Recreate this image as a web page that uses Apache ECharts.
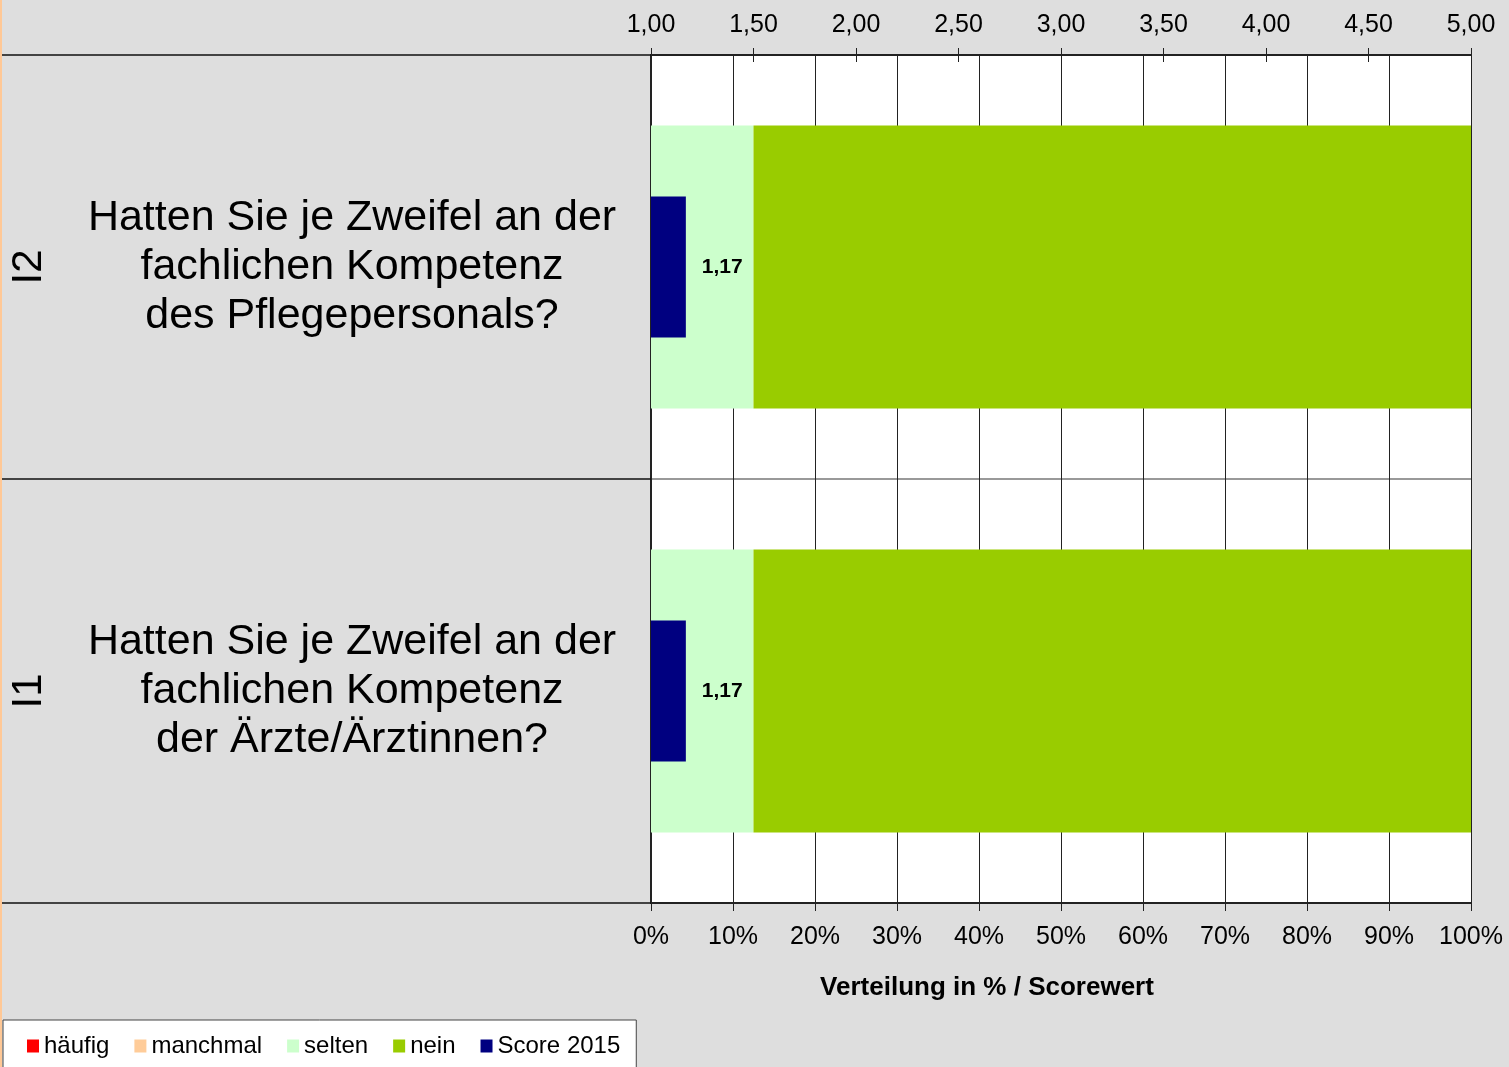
<!DOCTYPE html>
<html>
<head>
<meta charset="utf-8">
<script src="https://cdn.jsdelivr.net/npm/echarts@6/dist/echarts.min.js"></script>
<style>
html,body{margin:0;padding:0;background:#dedede;}
#c{width:1507px;height:1067px;border-left:2px solid #ffc896;background:#dedede;}
</style>
</head>
<body>
<div id="c"></div>
<script>
// ---- data ----
var codes = ['I1', 'I2'];
var questions = [
  'Hatten Sie je Zweifel an der\nfachlichen Kompetenz\nder Ärzte/Ärztinnen?',
  'Hatten Sie je Zweifel an der\nfachlichen Kompetenz\ndes Pflegepersonals?'
];
var haeufig = [0, 0];
var manchmal = [0, 0];
var selten = [12.5, 12.5];
var nein = [87.5, 87.5];
var score2015 = [1.17, 1.17];
var seriesNames = ['häufig', 'manchmal', 'selten', 'nein', 'Score 2015'];
var colors = ['#ff0000', '#ffcc99', '#ccffcc', '#99cc00', '#000080'];
var axisTitle = 'Verteilung in % / Scorewert';

var FONT = '"Liberation Sans", Arial, sans-serif';
var chart = echarts.init(document.getElementById('c'));

function stackBar(name, data, color) {
  return {
    name: name, type: 'bar', stack: 'dist', data: data,
    xAxisIndex: 0, yAxisIndex: 0, barWidth: '66.7%',
    itemStyle: { color: color }, z: 2
  };
}

var option = {
  animation: false,
  backgroundColor: '#dedede',
  textStyle: { fontFamily: FONT },
  grid: { left: 649, right: 38, top: 55, bottom: 164, containLabel: false, outerBoundsMode: 'none', backgroundColor: '#ffffff', show: true, borderWidth: 0 },
  legend: {
    left: 1, top: 1020,
    data: seriesNames.map(function (n) { return { name: n, icon: 'rect' }; }),
    itemWidth: 12, itemHeight: 13, itemGap: 25,
    backgroundColor: '#ffffff', borderColor: '#444', borderWidth: 1,
    padding: [14, 16, 40, 24],
    textStyle: { fontSize: 24, color: '#000', fontFamily: FONT }
  },
  xAxis: [
    {
      type: 'value', position: 'bottom', min: 0, max: 100, interval: 10,
      axisLine: { show: true, lineStyle: { color: '#222', width: 2 } },
      axisTick: { show: true, length: 8, lineStyle: { color: '#222', width: 1 } },
      axisLabel: { formatter: function (v) { return v + '%'; }, fontSize: 25, color: '#000', margin: 22, fontFamily: FONT },
      splitLine: { show: true, lineStyle: { color: '#222', width: 1 } },
      name: axisTitle, nameLocation: 'middle', nameGap: 72,
      nameTextStyle: { fontSize: 26, fontWeight: 'bold', color: '#000', fontFamily: FONT, padding: [0, 148, 0, 0] }
    },
    {
      type: 'value', position: 'top', min: 1, max: 5, interval: 0.5,
      axisLine: { show: true, lineStyle: { color: '#222', width: 2 } },
      axisTick: { show: true, length: 7, lineStyle: { color: '#222', width: 1 } },
      axisLabel: { formatter: function (v) { return v.toFixed(2).replace('.', ','); }, fontSize: 25, color: '#000', margin: 17, fontFamily: FONT },
      splitLine: { show: false }
    },
    {
      type: 'value', position: 'top', min: 1, max: 5, interval: 0.5,
      axisLine: { show: false },
      axisTick: { show: true, inside: true, length: 7, lineStyle: { color: '#222', width: 1 } },
      axisLabel: { show: false },
      splitLine: { show: false }
    }
  ],
  yAxis: [
    {
      type: 'category', data: questions, position: 'left',
      axisLine: { show: true, lineStyle: { color: '#222', width: 2 } },
      axisTick: { show: true, length: 649, lineStyle: { color: '#111', width: 1.5 } },
      axisLabel: { interval: 0, align: 'center', margin: 299, fontSize: 43, lineHeight: 49, padding: [4, 0, 0, 0], color: '#000', fontFamily: FONT },
      splitLine: { show: true, lineStyle: { color: '#999', width: 2 } }
    },
    {
      type: 'category', data: codes, position: 'left',
      axisLine: { show: false }, axisTick: { show: false },
      axisLabel: { interval: 0, rotate: 90, align: 'center', verticalAlign: 'middle', margin: 622, fontSize: 42, color: '#000', fontFamily: FONT },
      splitLine: { show: false }
    }
  ],
  series: [
    stackBar(seriesNames[0], haeufig, colors[0]),
    stackBar(seriesNames[1], manchmal, colors[1]),
    stackBar(seriesNames[2], selten, colors[2]),
    stackBar(seriesNames[3], nein, colors[3]),
    {
      name: seriesNames[4], type: 'bar', data: score2015,
      xAxisIndex: 1, yAxisIndex: 1, barWidth: '33.3%', clip: true,
      itemStyle: { color: colors[4] }, z: 3,
      label: {
        show: true, position: 'right', distance: 16,
        formatter: function (p) { return p.value.toFixed(2).replace('.', ','); },
        fontSize: 21, fontWeight: 'bold', color: '#000', fontFamily: FONT, padding: [3, 0, 0, 0]
      }
    }
  ]
};
chart.setOption(option);
</script>
</body>
</html>
